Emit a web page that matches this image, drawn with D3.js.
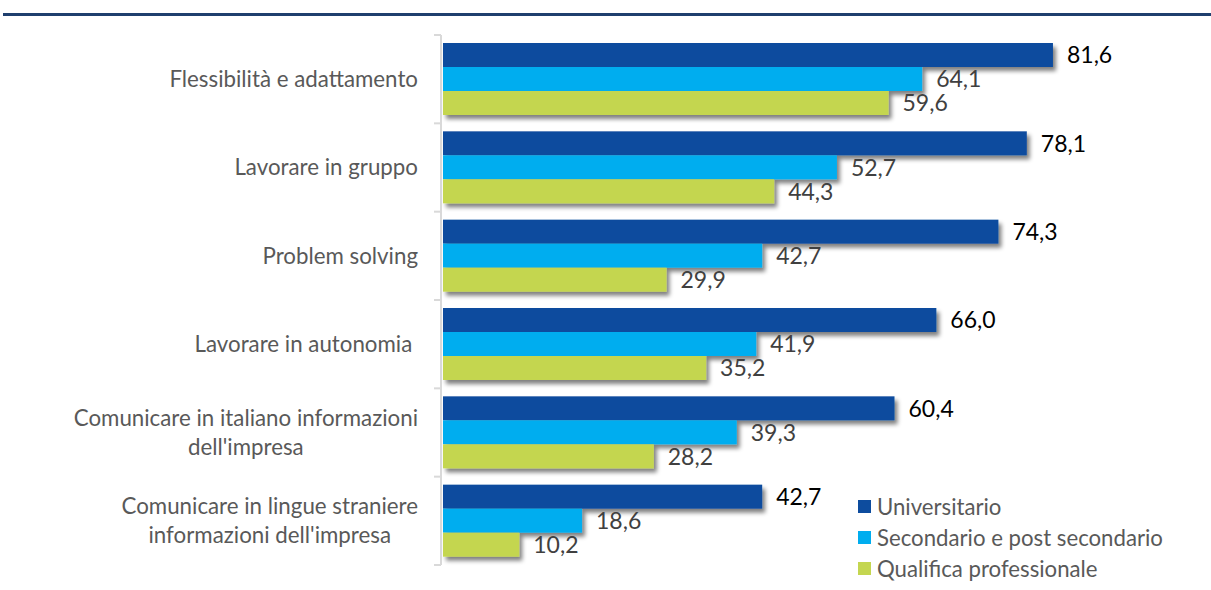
<!DOCTYPE html>
<html>
<head>
<meta charset="utf-8">
<script src="https://cdn.jsdelivr.net/npm/d3@7"></script>
<style>
  html, body { margin: 0; padding: 0; background: #fff; }
  svg { display: block; }
  text { font-family: Lato, "Open Sans", sans-serif; white-space: pre; }
</style>
</head>
<body>
<svg id="chart" width="1211" height="590"></svg>
<script>
// Skill categories (top to bottom), each label split into lines
const categories = [
  ["Flessibilità e adattamento"],
  ["Lavorare in gruppo"],
  ["Problem solving"],
  ["Lavorare in autonomia "],
  ["Comunicare in italiano informazioni", "dell'impresa"],
  ["Comunicare in lingue straniere", "informazioni dell'impresa"]
];
const seriesNames = ["Universitario", "Secondario e post secondario", "Qualifica professionale"];
const universitario = [81.6, 78.1, 74.3, 66.0, 60.4, 42.7];
const secondario = [64.1, 52.7, 42.7, 41.9, 39.3, 18.6];
const qualifica = [59.6, 44.3, 29.9, 35.2, 28.2, 10.2];
const colors = ["#0d4c9e", "#00adef", "#c4d650"];
const labelColors = ["#000000", "#404040", "#404040"];

const series = [universitario, secondario, qualifica];
const svg = d3.select("#chart");

// Header rule
svg.append("rect").attr("x", 3).attr("y", 13).attr("width", 1208).attr("height", 3).attr("fill", "#1f3f6e");

const x0 = 443;
const x = d3.scaleLinear().domain([0, 100]).range([x0, x0 + 747.5]);
const y = d3.scaleBand().domain(d3.range(categories.length)).range([35, 565]);
const inner = d3.scaleBand().domain(d3.range(3)).range([8, 80]);

const defs = svg.append("defs");
const f = defs.append("filter").attr("id", "shadow").attr("x", "-5%").attr("y", "-20%").attr("width", "115%").attr("height", "160%");
f.append("feGaussianBlur").attr("in", "SourceAlpha").attr("stdDeviation", 2.2).attr("result", "b");
f.append("feOffset").attr("in", "b").attr("dx", 3).attr("dy", 3.5).attr("result", "o");
f.append("feComponentTransfer").attr("in", "o").attr("result", "s")
  .append("feFuncA").attr("type", "linear").attr("slope", 0.5);
const m = f.append("feMerge");
m.append("feMergeNode").attr("in", "s");
m.append("feMergeNode").attr("in", "SourceGraphic");

// Bars
categories.forEach((c, i) => {
  const g = svg.append("g").attr("filter", "url(#shadow)");
  series.forEach((s, k) => {
    g.append("rect")
      .attr("x", x(0))
      .attr("y", y(i) + inner(k))
      .attr("width", x(s[i]) - x(0))
      .attr("height", inner.bandwidth())
      .attr("fill", colors[k]);
  });
});

// Value labels
categories.forEach((c, i) => {
  series.forEach((s, k) => {
    svg.append("text")
      .attr("x", x(s[i]) + 14)
      .attr("y", y(i) + inner(k) + inner.bandwidth() / 2)
      .attr("dy", "0.36em")
      .attr("font-size", 23)
      .attr("fill", labelColors[k])
      .text(d3.format(".1f")(s[i]).replace(".", ","));
  });
});

// Category axis
const axis = svg.append("g");
axis.append("line").attr("x1", 441).attr("x2", 441).attr("y1", 35).attr("y2", 565)
  .attr("stroke", "#d9d9d9").attr("stroke-width", 2);
d3.range(categories.length + 1).forEach(i => {
  const yy = i < categories.length ? y(i) : 565;
  axis.append("line").attr("x1", 434).attr("x2", 441).attr("y1", yy).attr("y2", yy)
    .attr("stroke", "#d9d9d9").attr("stroke-width", 2);
});
categories.forEach((lines, i) => {
  const cy = y(i) + 44;
  const t = axis.append("text").attr("font-size", 22.3).attr("fill", "#595959");
  lines.forEach((ln, j) => {
    t.append("tspan")
      .attr("y", cy + (j - (lines.length - 1) / 2) * 29)
      .attr("dy", "0.36em")
      .text(ln);
  });
  // Right-align the label block, centring each line inside it
  const spans = t.selectAll("tspan").nodes();
  const widths = spans.map(s => s.getComputedTextLength());
  const w = d3.max(widths);
  spans.forEach((s, j) => d3.select(s).attr("x", 418 - w + (w - widths[j]) / 2));
});

// Legend
const legend = svg.append("g");
seriesNames.forEach((n, k) => {
  const ly = 507 + k * 31;
  legend.append("rect").attr("x", 858).attr("y", ly - 7).attr("width", 13).attr("height", 13).attr("fill", colors[k]);
  legend.append("text").attr("x", 877).attr("y", ly).attr("dy", "0.36em")
    .attr("font-size", 22.2).attr("fill", "#595959").text(n);
});
</script>
</body>
</html>
